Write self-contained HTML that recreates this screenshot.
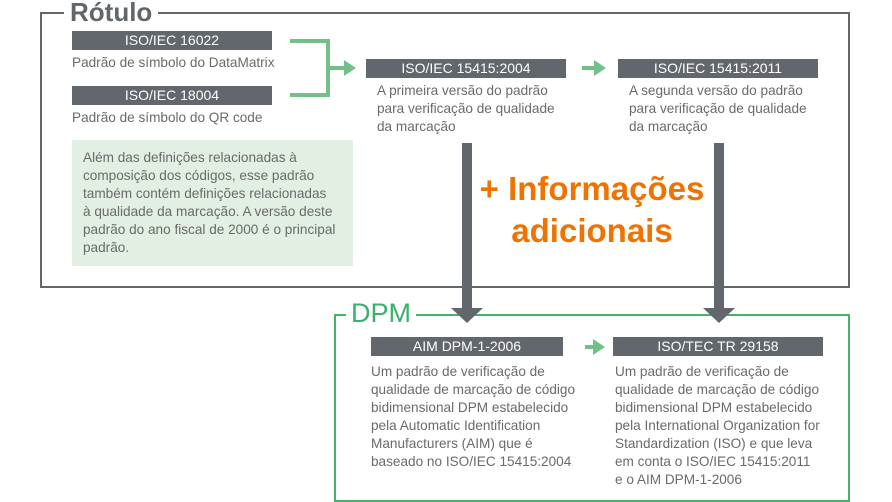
<!DOCTYPE html>
<html><head><meta charset="utf-8"><style>
body{margin:0;width:892px;height:502px;background:#fff;position:relative;overflow:hidden;font-family:"Liberation Sans",sans-serif;}
.a{position:absolute;}
.lab{position:absolute;background:#61676c;color:#fff;font-size:14px;text-align:center;height:19px;line-height:19px;}
.t{position:absolute;color:#6a6a6a;font-size:13.6px;line-height:18px;white-space:nowrap;}
</style></head><body>
<div class="a" style="left:40px;top:12px;width:806px;height:272px;border:2px solid #62676b;"></div>
<div class="a" style="left:64px;top:-4px;padding:0 6px;background:#fff;color:#62676b;font-size:26px;font-weight:bold;line-height:32px;">Rótulo</div>
<div class="a" style="left:334px;top:314px;width:512px;height:184px;border:2px solid #45b36b;"></div>
<div class="a" style="left:346px;top:297px;padding:0 5px;background:#fff;color:#3cb06a;font-size:27px;line-height:32px;">DPM</div>

<div class="lab" style="left:72px;top:31px;width:200px;">ISO/IEC 16022</div>
<div class="t" style="left:72px;top:54px;">Padrão de símbolo do DataMatrix</div>
<div class="lab" style="left:72px;top:86px;width:200px;">ISO/IEC 18004</div>
<div class="t" style="left:72px;top:109px;">Padrão de símbolo do QR code</div>

<div class="a" style="left:72px;top:140px;width:281px;height:126px;background:#e2efe3;"></div>
<div class="t" style="left:83px;top:149px;">Além das definições relacionadas à<br>composição dos códigos, esse padrão<br>também contém definições relacionadas<br>à qualidade da marcação. A versão deste<br>padrão do ano fiscal de 2000 é o principal<br>padrão.</div>

<svg class="a" style="left:0;top:0" width="892" height="502">
<g fill="none" stroke="#72c088" stroke-width="4">
<polyline points="290,41 328,41 328,95 290,95"/>
<line x1="328" y1="68" x2="345" y2="68"/>
<line x1="582" y1="68" x2="596" y2="68"/>
<line x1="585" y1="347" x2="596" y2="347"/>
</g>
<g fill="#72c088">
<polygon points="344,60 356,68 344,76"/>
<polygon points="594,60 606,68 594,76"/>
<polygon points="593,339 605,347 593,355"/>
</g>
<g fill="#61676c">
<rect x="462" y="143" width="10" height="166"/>
<polygon points="451,308 483,308 467,323"/>
<rect x="714" y="143" width="10" height="166"/>
<polygon points="703,308 735,308 719,323"/>
</g>
</svg>

<div class="lab" style="left:366px;top:59px;width:200px;">ISO/IEC 15415:2004</div>
<div class="t" style="left:377px;top:82px;">A primeira versão do padrão<br>para verificação de qualidade<br>da marcação</div>
<div class="lab" style="left:618px;top:59px;width:200px;">ISO/IEC 15415:2011</div>
<div class="t" style="left:629px;top:82px;">A segunda versão do padrão<br>para verificação de qualidade<br>da marcação</div>

<div class="a" style="left:462px;top:168px;width:260px;text-align:center;color:#ef7300;font-size:33px;font-weight:bold;line-height:42px;">+ Informações<br>adicionais</div>

<div class="lab" style="left:371px;top:337px;width:192px;">AIM DPM-1-2006</div>
<div class="t" style="left:371px;top:363px;">Um padrão de verificação de<br>qualidade de marcação de código<br>bidimensional DPM estabelecido<br>pela Automatic Identification<br>Manufacturers (AIM) que é<br>baseado no ISO/IEC 15415:2004</div>
<div class="lab" style="left:613px;top:337px;width:210px;">ISO/TEC TR 29158</div>
<div class="t" style="left:615px;top:363px;">Um padrão de verificação de<br>qualidade de marcação de código<br>bidimensional DPM estabelecido<br>pela International Organization for<br>Standardization (ISO) e que leva<br>em conta o ISO/IEC 15415:2011<br>e o AIM DPM-1-2006</div>
</body></html>
